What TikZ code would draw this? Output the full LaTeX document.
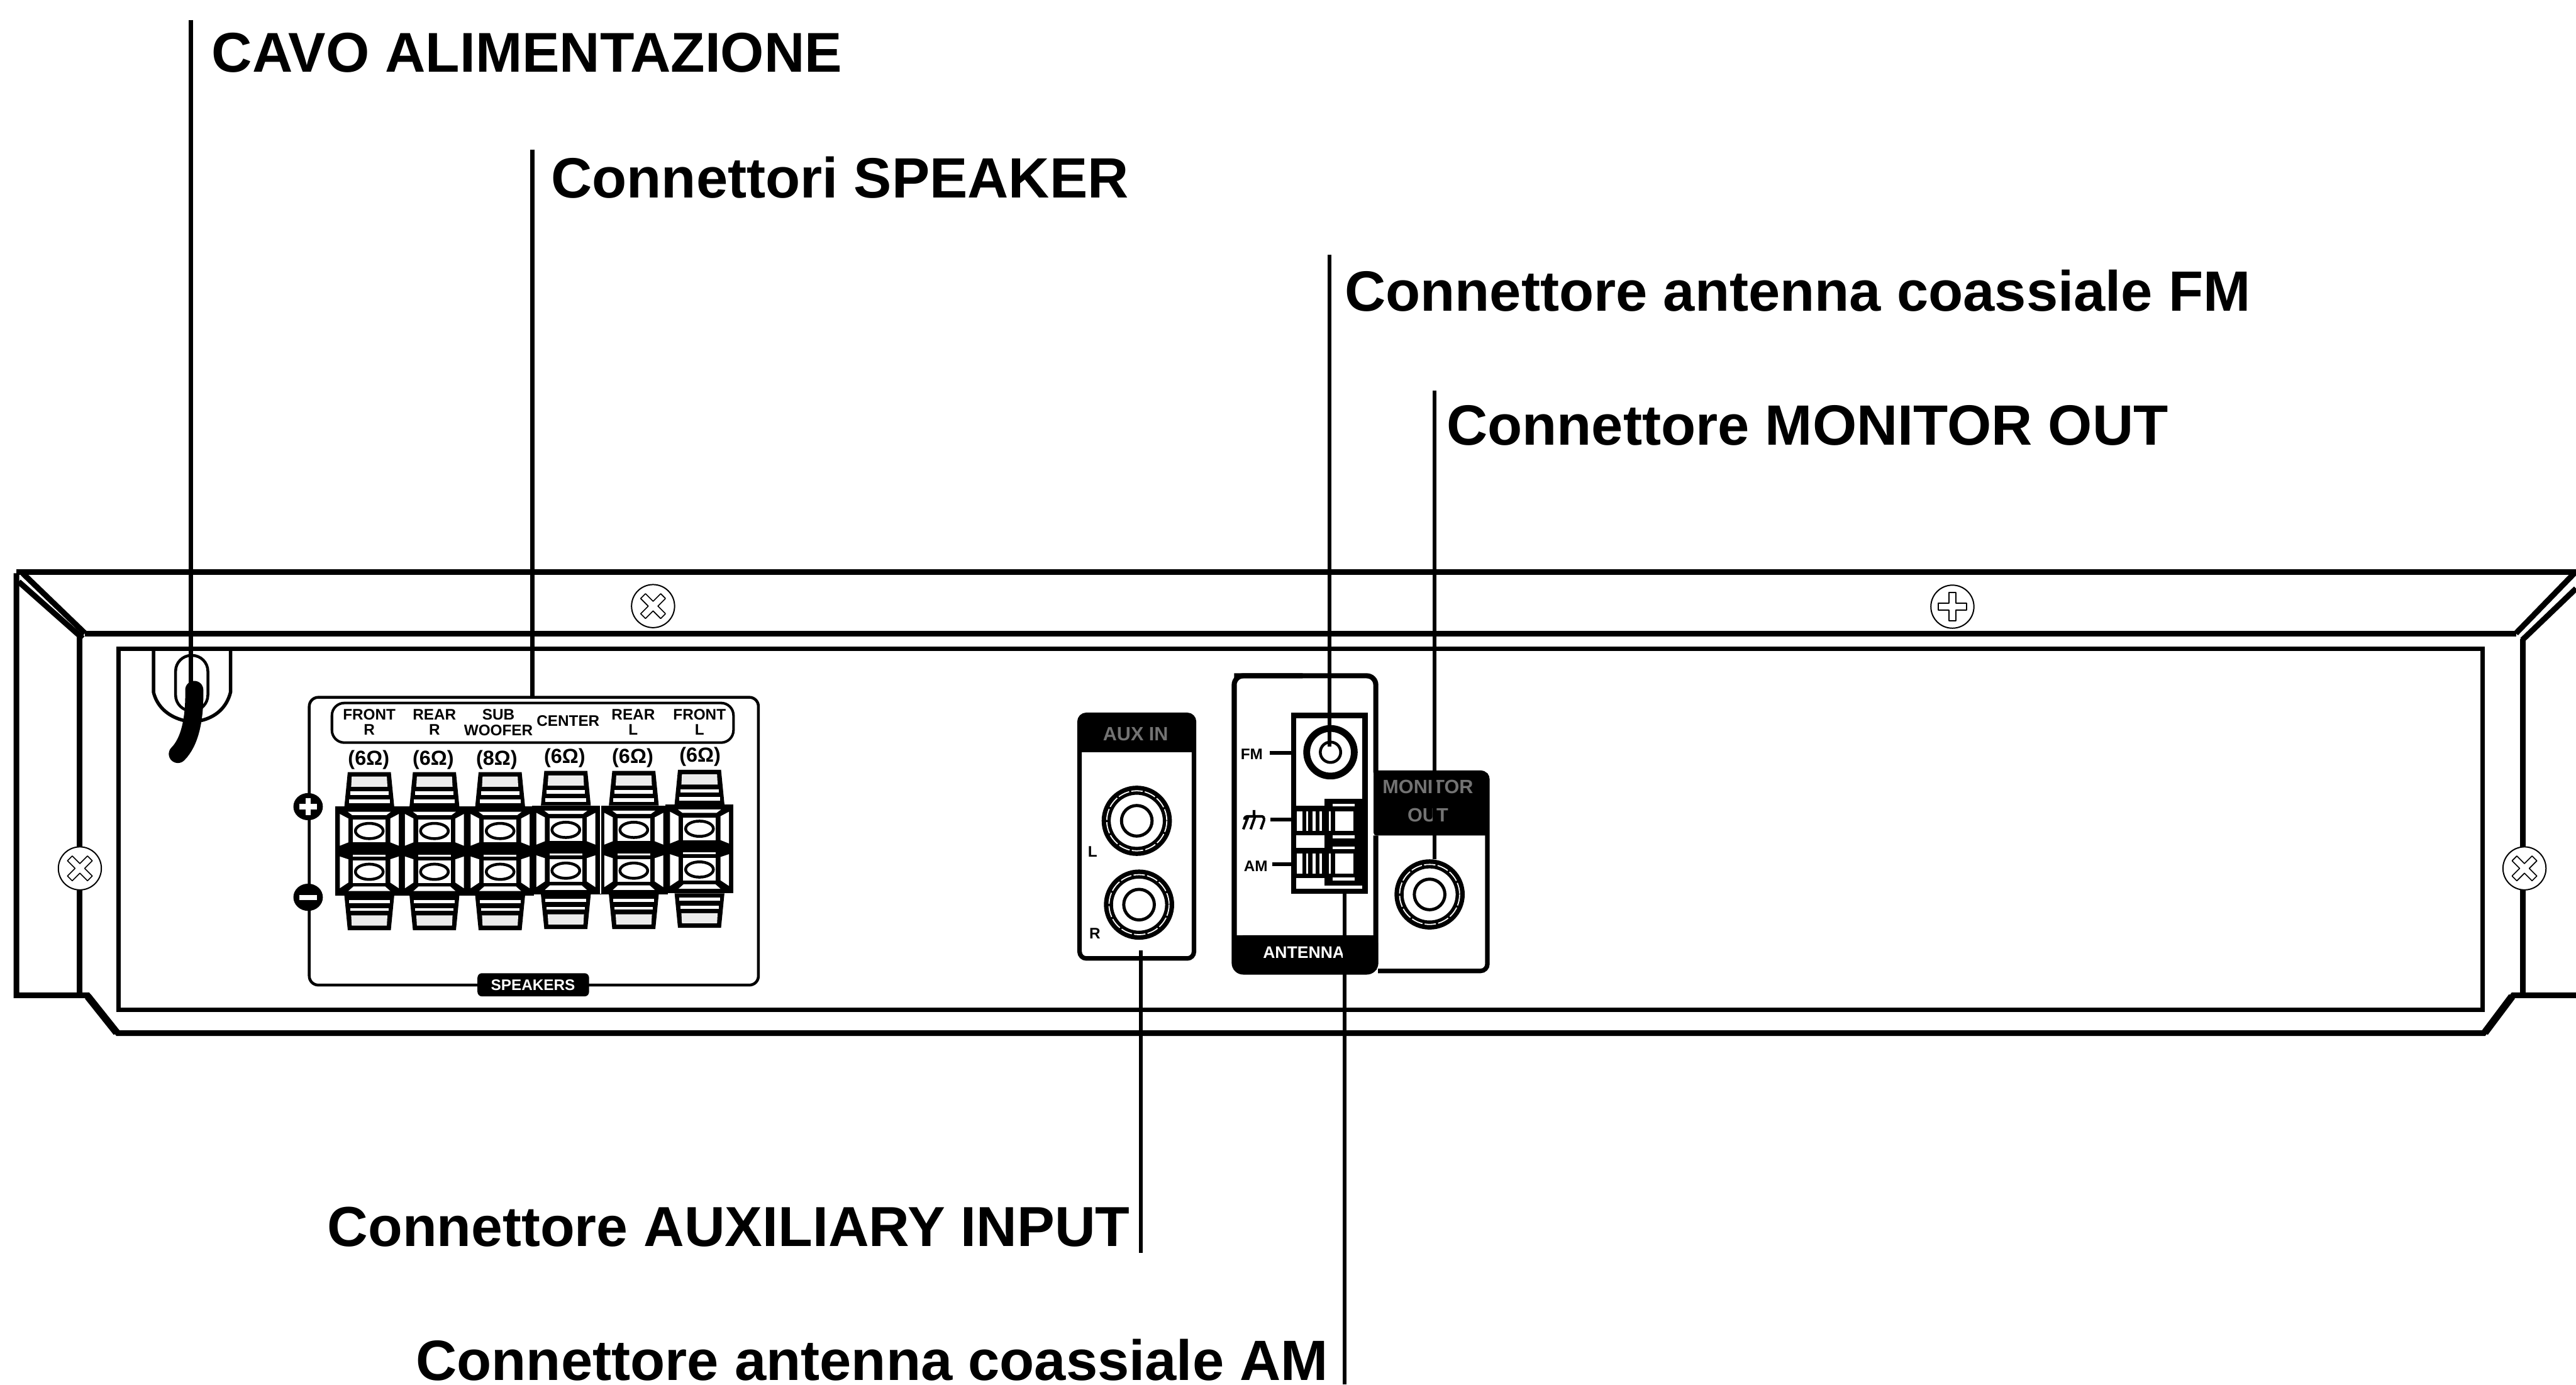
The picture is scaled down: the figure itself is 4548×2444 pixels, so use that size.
\documentclass[tikz,border=0pt]{standalone}
\usepackage{fontspec}
\setmainfont{Liberation Sans}
\tikzset{x=0.1pt,y=-0.1pt,
  lbl/.style={font=\bfseries\fontsize{10.03}{11}\selectfont,inner sep=0pt,anchor=west},
  lead/.style={line width=0.7pt,draw=black},
  tiny/.style={font=\bfseries\fontsize{2.7}{3}\selectfont,inner sep=0pt,align=center},
  ohm/.style={font=\bfseries\fontsize{3.6}{4}\selectfont,inner sep=0pt},
  wall/.style={line width=1pt,draw=black},
  screw/.style={circle,draw=black,fill=white,line width=0.22pt,minimum size=7.6pt,inner sep=0pt},
  cross/.style={draw=black,fill=white,line width=0.18pt,line join=round},
  blur/.style={font=\bfseries\fontsize{3.4}{3.8}\selectfont,inner sep=0pt,text=black!55,align=center},
}
\newcommand{\crossshape}[3]{% x,y,rot
  \draw[cross,shift={(#1,#2)},rotate=#3]
   (-6,-25)--(6,-25)--(6,-6)--(25,-6)--(25,6)--(6,6)--(6,25)--(-6,25)--(-6,6)--(-25,6)--(-25,-6)--(-6,-6)--cycle;}
\newcommand{\terminal}[2]{% centre x, y shift
 \begin{scope}[shift={(#1,#2)}]
  % upper cap
  \fill (-38,1363)--(38,1363)--(44,1424)--(-44,1424)--cycle;
  \fill[black!8] (-31,1371)--(31,1371)--(32,1389)--(-32,1389)--cycle;
  \fill[white] (-34,1397)rectangle(34,1403);
  \fill[white] (-36,1411)rectangle(36,1418);
  % lower cap
  \fill (-44,1581)--(44,1581)--(38,1642)--(-38,1642)--cycle;
  \fill[black!8] (-32,1616)--(32,1616)--(31,1634)--(-31,1634)--cycle;
  \fill[white] (-34,1603)rectangle(34,1608);
  \fill[white] (-36,1589)rectangle(36,1594);
  % block
  \fill (-60,1424)rectangle(60,1581);
  \foreach \sx in {-1,1}{%
   \fill[white] (\sx*52,1437)--(\sx*37,1445)--(\sx*37,1487)--(\sx*52,1493)--cycle;
   \fill[white] (\sx*52,1512)--(\sx*37,1517)--(\sx*37,1558)--(\sx*52,1568)--cycle;
  }
  \fill[white] (-38,1433)--(38,1433)--(30,1439)--(-30,1439)--cycle;
  \fill[white] (-29,1509)rectangle(29,1512);
  \fill[white] (-28,1565)--(28,1565)--(37,1573)--(-37,1573)--cycle;
  \foreach \yy in {1467,1539}{%
   \fill[white] (-29,\yy-20) rectangle (29,\yy+20);
   \draw[line width=0.5pt,fill=white] (0,\yy) ellipse [x radius=24.5,y radius=13.5];
  }
 \end{scope}}
\newcommand{\rca}[2]{%
 \begin{scope}[shift={(#1,#2)}]
  \draw[line width=1.6pt] (0,0) circle [radius=54];
  \draw[white,line width=0.2pt,dash pattern=on 2pt off 0.4pt] (0,0) circle [radius=53];
  \draw[line width=0.55pt] (0,0) circle [radius=27];
 \end{scope}}
\newcommand{\springterm}[3]{% strip top, window top, strip-bottom
  \fill[white] (2353,#1)rectangle(2392,#1+5);
  \fill[white] (2357,#2)rectangle(2390,#2+35);
  \fill[white] (2353,#3)rectangle(2392,#3+5);
  \foreach \wa/\wb in {2289/2299,2306/2310,2317/2323,2330/2334,2346/2350}{%
    \fill[white] (\wa,#2)rectangle(\wb,#2+35);}
}
\begin{document}
\begin{tikzpicture}
\useasboundingbox (0,0) rectangle (4548,2444);
\fill[white] (0,0) rectangle (4548,2444);
% ---- chassis
\draw[wall] (29,1010)--(4548,1010);
\draw[wall] (150,1119)--(4442,1119);
\draw[wall,line join=miter] (29,1012)--(29,1757)--(155,1757)--(208,1824)--(4385,1824)--(4437,1757)--(4548,1757);
\draw[line width=1.3pt] (155,1759)--(206,1823);
\draw[line width=1.3pt] (4387,1823)--(4435,1759);
\draw[wall] (141,1125)--(141,1757);
\draw[wall] (4454,1128)--(4454,1757);
\draw[line width=1pt] (33,1027)--(146,1127);
\draw[line width=1pt] (40,1012)--(150,1118);
\draw[line width=1pt] (4545,1012)--(4442,1118);
\draw[line width=1pt] (4548,1039)--(4453,1130);
\draw[line width=0.8pt] (209,1145) rectangle (4383,1783);
% ---- screws
\node[screw] (s1) at (141,1533) {}; \crossshape{141}{1533}{45}
\node[screw] (s2) at (4457,1533) {}; \crossshape{4457}{1533}{45}
\node[screw] (s3) at (1153,1070) {}; \crossshape{1153}{1070}{45}
\node[screw] (s4) at (3447,1071) {}; \crossshape{3447}{1071}{0}
% ---- cord notch
\draw[line width=0.6pt] (271,1145)--(271,1222) .. controls (278,1250) and (300,1266) .. (325,1272);
\draw[line width=0.6pt] (407,1145)--(407,1222) .. controls (400,1250) and (380,1266) .. (355,1272);
\draw[line width=0.5pt,rounded corners=2.8pt] (310,1157) rectangle (367,1255);
\draw[line width=3.2pt,line cap=round] (343,1218) .. controls (344,1270) and (335,1310) .. (314,1331);
% ---- speaker panel
\draw[line width=0.5pt,rounded corners=1.6pt] (546,1231) rectangle (1339,1739);
\draw[line width=0.45pt,rounded corners=2.2pt] (586,1241) rectangle (1295,1311);
\node[tiny] (t1) at (652,1275) {FRONT\\[-0.3pt]R};
\node[tiny] (t2) at (767,1275) {REAR\\[-0.3pt]R};
\node[tiny] (t3) at (880,1275) {SUB\\[-0.2pt]WOOFER};
\node[tiny] (t4) at (1003,1273) {CENTER};
\node[tiny] (t5) at (1118,1275) {REAR\\[-0.3pt]L};
\node[tiny] (t6) at (1235,1275) {FRONT\\[-0.3pt]L};
\node[ohm] (o1) at (651,1341) {(6Ω)};
\node[ohm] (o2) at (765,1341) {(6Ω)};
\node[ohm] (o3) at (877,1341) {(8Ω)};
\node[ohm] (o4) at (997,1338) {(6Ω)};
\node[ohm] (o5) at (1117,1338) {(6Ω)};
\node[ohm] (o6) at (1236,1336) {(6Ω)};
\terminal{652}{0}\terminal{767}{0}\terminal{883}{0}
\terminal{999}{-2}\terminal{1119}{-2}\terminal{1235}{-4}
\draw[white,line width=0.25pt] (1060,1420)--(1060,1578);
\fill (544,1424) ellipse [x radius=26,y radius=24];
\draw[white,line width=0.9pt] (528,1424)--(560,1424) (544,1409)--(544,1439);
\fill (544,1584) ellipse [x radius=26,y radius=24];
\draw[white,line width=0.9pt] (528,1584)--(560,1584);
\fill[rounded corners=0.8pt] (843,1718) rectangle (1040,1759);
\node[tiny,text=white] (spk) at (941,1739) {SPEAKERS};
% ---- AUX panel
\draw[line width=0.8pt,rounded corners=1.2pt] (1906,1262) rectangle (2108,1692);
\fill[rounded corners=1.2pt] (1906,1262) rectangle (2108,1300);
\fill (1906,1285) rectangle (2108,1328);
\node[blur] (aux) at (2005,1296) {AUX IN};
\rca{2007}{1449}\rca{2011}{1597}
\node[tiny] (audl) at (1929,1504) {L};
\node[tiny] (audr) at (1933,1648) {R};
% ---- monitor panel
\draw[line width=0.8pt,rounded corners=1.2pt] (2433,1714) -- (2626,1714) -- (2626,1364) -- (2425,1364);
\fill[rounded corners=0.5pt] (2425,1364) rectangle (2628,1475);
\node[blur] (mon) at (2521,1414) {MONITOR\\[1.2pt]OUT};
\rca{2524}{1579}
% ---- antenna panel
\draw[line width=0.9pt,rounded corners=1.6pt] (2179,1193) -- (2429,1193) -- (2429,1364);
\draw[line width=0.9pt,rounded corners=1.6pt] (2429,1475)--(2429,1716)--(2179,1716)--(2179,1193)--(2300,1193);
\fill[rounded corners=1.6pt] (2179,1651) rectangle (2433,1716);
\fill (2179,1651) rectangle (2433,1680);
\node[font=\bfseries\fontsize{2.95}{3}\selectfont,text=white,inner sep=0pt] (ant) at (2302,1681) {ANTENNA};
\fill (2372,1655) rectangle (2430,1712);
\draw[line width=0.9pt,fill=white] (2284,1263) rectangle (2410,1573);
\draw[line width=1.2pt] (2349,1328) circle [radius=42];
\draw[line width=0.5pt] (2349,1328) circle [radius=18];
% spring terminals
\fill (2288,1422) rectangle (2338,1475);
\fill (2288,1497) rectangle (2338,1550);
\fill (2338,1410) rectangle (2405,1563);
\springterm{1419}{1432}{1475}
\springterm{1494}{1507}{1549}
\draw[line width=0.7pt] (2242,1329)--(2281,1329) (2243,1447)--(2281,1447) (2246,1526)--(2281,1526);
\node[tiny] (fm) at (2210,1332) {FM};
\node[tiny] (am) at (2217,1529) {AM};
\draw[line width=0.45pt] (2197,1447) .. controls (2197,1442) and (2200,1441) .. (2205,1441) -- (2226,1441) .. controls (2231,1441) and (2232,1444) .. (2232,1447)
  (2214,1430)--(2214,1441)
  (2204,1441)--(2195,1464) (2216,1441)--(2208,1464) (2232,1447)--(2226,1464);
% ---- leaders and labels
\node[lbl,font=\bfseries\fontsize{9.9}{11}\selectfont] (cavo) at (372,93) {CAVO ALIMENTAZIONE};
\node[lbl] (spkl) at (971,313) {Connettori SPEAKER};
\node[lbl] (fml) at (2372,513) {Connettore antenna coassiale FM};
\node[lbl] (monl) at (2552,751) {Connettore MONITOR OUT};
\node[lbl,anchor=east,font=\bfseries\fontsize{9.95}{11}\selectfont] (auxl) at (1997,2166) {Connettore AUXILIARY INPUT};
\node[lbl,anchor=east] (aml) at (2347,2401) {Connettore antenna coassiale AM};
\coordinate (c1) at (337,35); \coordinate (c2) at (337,1210);
\coordinate (c3) at (940,264); \coordinate (c4) at (940,1231);
\coordinate (c5) at (2347,450); \coordinate (c6) at (2347,1318);
\coordinate (c7) at (2533,690); \coordinate (c8) at (2533,1517);
\coordinate (c9) at (2014,1678); \coordinate (c10) at (2014,2212);
\coordinate (c11) at (2374,1575); \coordinate (c12) at (2374,2444);
\draw[lead] (c1)--(c2); \draw[lead] (c3)--(c4); \draw[lead] (c5)--(c6);
\draw[lead] (c7)--(c8); \draw[lead] (c9)--(c10); \draw[lead] (c11)--(c12);
\end{tikzpicture}
\end{document}
